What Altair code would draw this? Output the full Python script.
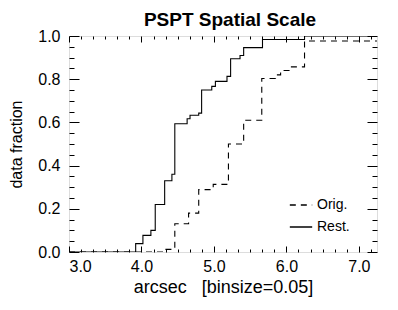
import altair as alt
import pandas as pd

# Step positions (arcsec) and cumulative data fraction
rest_x = [3.0, 3.92, 4.02, 4.13, 4.19, 4.32, 4.42, 4.46, 4.63, 4.67, 4.79, 4.83, 4.97, 5.02, 5.18, 5.23, 5.36, 5.41, 5.67, 6.25, 7.25]
rest_y = [0.0, 0.039, 0.077, 0.10, 0.22, 0.33, 0.36, 0.594, 0.617, 0.633, 0.643, 0.75, 0.767, 0.79, 0.813, 0.895, 0.91, 0.946, 0.984, 1.0, 1.0]

orig_x = [3.0, 4.30, 4.46, 4.65, 4.79, 4.99, 5.20, 5.41, 5.66, 5.85, 5.92, 6.05, 6.25, 7.25]
orig_y = [0.0, 0.012, 0.131, 0.18, 0.289, 0.313, 0.50, 0.61, 0.803, 0.82, 0.84, 0.857, 0.977, 0.977]

series_names = ["Orig.", "Rest."]
x_labels = [3.0, 4.0, 5.0, 6.0, 7.0]
y_labels = [0.0, 0.2, 0.4, 0.6, 0.8, 1.0]
x_minor = [round(3 + k / 6, 4) for k in range(26)]
y_minor = [round(k * 0.05, 2) for k in range(21)]

df = pd.concat([
    pd.DataFrame({"x": orig_x, "y": orig_y, "series": series_names[0], "order": range(len(orig_x))}),
    pd.DataFrame({"x": rest_x, "y": rest_y, "series": series_names[1], "order": range(len(rest_x))}),
])

W, H = 308, 216
FONT = "Liberation Sans"
NB = "\u00a0"
xscale = alt.Scale(domain=[3.0, 7.25], nice=False, zero=False)
yscale = alt.Scale(domain=[0.0, 1.0], nice=False, zero=False)

x_major_test = "abs(datum.value - round(datum.value)) < 0.001"
y_major_test = "abs(datum.value * 5 - round(datum.value * 5)) < 0.001"

def tick_axis_x(orient):
    return alt.Axis(orient=orient, offset=-H, values=x_minor, labels=False, domain=False,
                    grid=False, title=None, tickColor="black", tickWidth=1,
                    tickSize={"condition": {"test": x_major_test, "value": 6}, "value": 3})

def tick_axis_y(orient):
    return alt.Axis(orient=orient, offset=-W, values=y_minor, labels=False, domain=False,
                    grid=False, title=None, tickColor="black", tickWidth=1,
                    tickSize={"condition": {"test": y_major_test, "value": 10}, "value": 5})

dash = alt.StrokeDash("series:N",
                      scale=alt.Scale(domain=series_names, range=[[6, 5], [1, 0]]),
                      legend=alt.Legend(title=None, orient="none", legendX=220, legendY=157,
                                        symbolType="stroke", symbolSize=500, symbolStrokeWidth=1.6,
                                        symbolStrokeColor="black", labelFont=FONT, labelFontSize=14,
                                        labelColor="black", rowPadding=3, labelOffset=4))

main = alt.Chart(df).mark_line(interpolate="step-after", color="black", strokeWidth=1.1, clip=True).encode(
    x=alt.X("x:Q", scale=xscale,
            axis=alt.Axis(orient="bottom", values=x_labels, format=".1f", ticks=False, domain=False,
                          grid=False, title=f"arcsec{NB}{NB}{NB}[binsize=0.05]", labelFont=FONT,
                          labelFontSize=16, labelColor="black", labelPadding=6, titleFont=FONT,
                          titleFontSize=18, titleFontWeight="normal", titleColor="black", titlePadding=4)),
    y=alt.Y("y:Q", scale=yscale,
            axis=alt.Axis(orient="left", values=y_labels, format=".1f", ticks=False, domain=False,
                          grid=False, title="data fraction", labelFont=FONT, labelFontSize=16,
                          labelColor="black", labelPadding=9, titleFont=FONT, titleFontSize=16,
                          titleFontWeight="normal", titleColor="black", titlePadding=13)),
    strokeDash=dash,
    order="order:Q",
)

ticks_a = alt.Chart(df).mark_line(opacity=0).encode(
    x=alt.X("x:Q", scale=xscale, axis=tick_axis_x("top")),
    y=alt.Y("y:Q", scale=yscale, axis=tick_axis_y("right")),
)
ticks_b = alt.Chart(df).mark_line(opacity=0).encode(
    x=alt.X("x:Q", scale=xscale, axis=tick_axis_x("bottom")),
    y=alt.Y("y:Q", scale=yscale, axis=tick_axis_y("left")),
)

chart = alt.layer(main, ticks_a, ticks_b).resolve_axis(x="independent", y="independent").properties(
    width=W, height=H,
    autosize=alt.AutoSizeParams(type="none"),
    padding={"left": 61, "top": 28, "right": 13, "bottom": 50},
    title=alt.Title("PSPT Spatial Scale", font=FONT, fontSize=19, fontWeight="bold", color="black",
                    anchor="middle", dx=7, dy=14, offset=12, frame="group"),
).configure_view(stroke="black", strokeWidth=1.2).configure(background="white")

chart.save("out.html", embed_options={"renderer": "svg", "actions": False})
